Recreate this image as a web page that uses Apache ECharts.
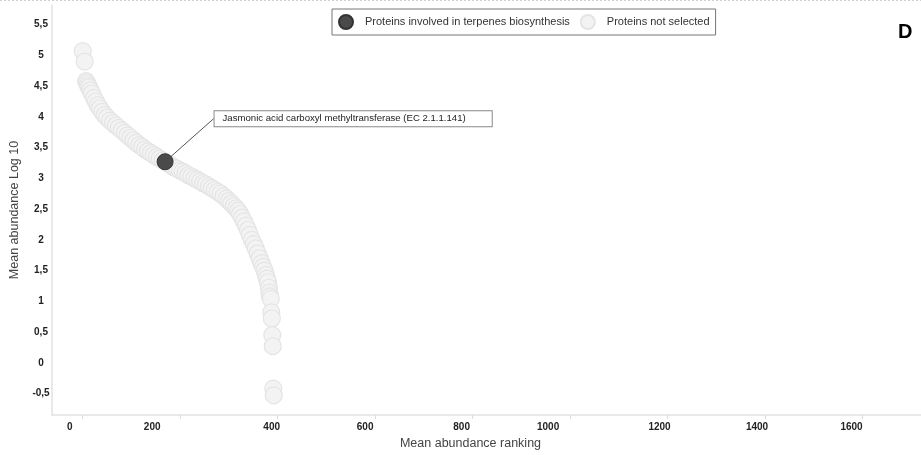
<!DOCTYPE html>
<html>
<head>
<meta charset="utf-8">
<script src="https://cdn.jsdelivr.net/npm/echarts@6/dist/echarts.min.js"></script>
<style>
  html, body { margin: 0; padding: 0; background: #fff; }
  #chart { width: 921px; height: 455px; }
</style>
</head>
<body>
<div id="chart"></div>
<script>
// Ranking of every quantified protein and its mean abundance (log10)
const otherRank = [0, 4, 7, 9, 11, 13, 16, 19, 23, 27, 31, 35, 40, 45, 50, 56, 62, 68, 74, 80,
  86, 92, 98, 104, 110, 116, 122, 128, 134, 140, 146, 152, 158, 164, 175, 181, 187, 193, 199, 205,
  211, 217, 223, 229, 235, 241, 247, 253, 259, 265, 271, 277, 283, 289, 295, 300, 305, 310, 315, 319,
  323, 327, 331, 335, 339, 343, 347, 351, 355, 359, 363, 367, 370, 373, 376, 378, 380, 382, 383, 384,
  386, 387, 388, 389, 390, 391, 392];
const otherLog = [5.07, 4.90, 4.58, 4.55, 4.51, 4.48, 4.43, 4.38, 4.31, 4.25, 4.19, 4.14, 4.08, 4.03, 3.99, 3.94, 3.90, 3.86, 3.82, 3.78,
  3.74, 3.70, 3.66, 3.62, 3.58, 3.54, 3.51, 3.47, 3.44, 3.41, 3.38, 3.35, 3.32, 3.29, 3.24, 3.21, 3.18, 3.16, 3.13, 3.11,
  3.08, 3.05, 3.03, 3.00, 2.98, 2.95, 2.92, 2.90, 2.87, 2.84, 2.81, 2.78, 2.75, 2.71, 2.67, 2.63, 2.59, 2.55, 2.51, 2.47,
  2.42, 2.36, 2.30, 2.23, 2.16, 2.08, 2.00, 1.93, 1.86, 1.78, 1.70, 1.62, 1.56, 1.50, 1.43, 1.37, 1.31, 1.22, 1.14, 1.08,
  1.04, 0.82, 0.72, 0.45, 0.27, -0.42, -0.53];

// Proteins involved in terpenes biosynthesis
const terpeneRank = [169];
const terpeneLog = [3.27];
const terpeneName = ['Jasmonic acid carboxyl methyltransferase (EC 2.1.1.141)'];

const seriesNames = ['Proteins involved in terpenes biosynthesis', 'Proteins not selected'];

// Axis ticks
const xTicks = [0, 200, 400, 600, 800, 1000, 1200, 1400, 1600];
const yTicks = [-0.5, 0, 0.5, 1, 1.5, 2, 2.5, 3, 3.5, 4, 4.5, 5, 5.5];

// Horizontal nudge (px, leftwards) of each x tick label
const xLabelNudge = [13, 28, 6, 10, 11, 22, 8, 8, 11];

const FONT = '"Liberation Sans", Arial, sans-serif';

const otherData = otherRank.map((r, i) => [r, otherLog[i]]);
const terpeneData = terpeneRank.map((r, i) => ({ value: [r, terpeneLog[i]], name: terpeneName[i] }));

const rich = {};
xLabelNudge.forEach((n, i) => {
  rich['n' + i] = {
    fontFamily: FONT, fontSize: 10, fontWeight: 'bold', color: '#222',
    padding: [0, 2 * n, 0, 0]
  };
});

const chart = echarts.init(document.getElementById('chart'), null, { renderer: 'canvas' });
chart.setOption({
  animation: false,
  backgroundColor: '#fff',
  textStyle: { fontFamily: FONT },
  title: {
    text: 'D',
    left: 893, top: 17,
    textStyle: { fontFamily: FONT, fontSize: 20, fontWeight: 'bold', color: '#000' }
  },
  graphic: [{
    type: 'line',
    shape: { x1: 0, y1: 0.5, x2: 921, y2: 0.5 },
    style: { stroke: '#d0d0d0', lineWidth: 1, lineDash: [2, 2] },
    silent: true
  }],
  legend: {
    data: seriesNames,
    left: 332, top: 9,
    orient: 'horizontal',
    backgroundColor: '#fff',
    borderColor: '#777',
    borderWidth: 1,
    borderRadius: 0,
    padding: [5, 6, 5, 6],
    itemGap: 10,
    itemWidth: 14, itemHeight: 14,
    textStyle: { fontFamily: FONT, fontSize: 11, color: '#333', padding: [0, 0, 0, 7] }
  },
  grid: { left: 52, right: 0, top: 5, bottom: 37, containLabel: false },
  xAxis: {
    type: 'value',
    min: -63, max: 1720,
    name: 'Mean abundance ranking',
    nameLocation: 'middle',
    nameGap: 22,
    nameTextStyle: { fontFamily: FONT, fontSize: 12.5, color: '#444', padding: [0, 32, 0, 0] },
    axisLine: { show: true, onZero: false, lineStyle: { color: '#e2e2e2', width: 1.5 } },
    axisTick: { show: true, length: 4, lineStyle: { color: '#dcdcdc' }, customValues: xTicks },
    axisLabel: {
      customValues: xTicks,
      margin: 7,
      fontFamily: FONT, fontSize: 10, fontWeight: 'bold', color: '#222',
      formatter: (v) => {
        const i = xTicks.indexOf(v);
        return i < 0 ? '' : '{n' + i + '|' + v + '}';
      },
      rich: rich
    },
    splitLine: { show: false }
  },
  yAxis: {
    type: 'value',
    min: -0.85, max: 5.82,
    name: 'Mean abundance Log 10',
    nameLocation: 'middle',
    nameRotate: 90,
    nameGap: 29,
    nameTextStyle: { fontFamily: FONT, fontSize: 12.5, color: '#444' },
    axisLine: { show: true, onZero: false, lineStyle: { color: '#e2e2e2', width: 1.5 } },
    axisTick: { show: false },
    axisLabel: {
      customValues: yTicks,
      align: 'center',
      margin: 11,
      fontFamily: FONT, fontSize: 10, fontWeight: 'bold', color: '#222',
      formatter: (v) => String(v).replace('.', ',')
    },
    splitLine: { show: false }
  },
  series: [
    {
      name: seriesNames[1],
      type: 'scatter',
      symbol: 'circle',
      symbolSize: 17,
      data: otherData,
      itemStyle: { color: '#f3f3f3', borderColor: '#e4e4e4', borderWidth: 1.2, opacity: 1 },
      emphasis: { disabled: true },
      z: 2
    },
    {
      name: seriesNames[0],
      type: 'scatter',
      symbol: 'circle',
      symbolSize: 16,
      data: terpeneData,
      itemStyle: { color: '#4a4a4a', borderColor: '#333', borderWidth: 1, opacity: 1 },
      emphasis: { disabled: true },
      label: {
        show: true,
        position: 'right',
        distance: 5,
        formatter: '{b}',
        fontFamily: FONT, fontSize: 9.6, color: '#222',
        backgroundColor: '#fff',
        borderColor: '#888', borderWidth: 1,
        padding: [3, 26, 2, 8]
      },
      labelLayout: { dx: 36, dy: -43 },
      labelLine: { show: true, lineStyle: { color: '#555', width: 1 } },
      z: 5
    }
  ]
});
</script>
</body>
</html>
